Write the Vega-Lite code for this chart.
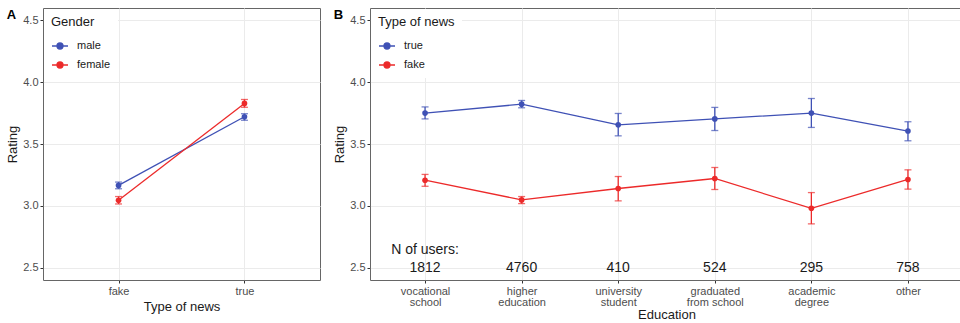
{
  "$schema": "https://vega.github.io/schema/vega-lite/v6.json",
  "padding": {"left": 6, "top": 7, "right": 0, "bottom": 0},
  "spacing": 12,
  "datasets": {
    "byGender": [
      {"news": "fake", "gender": "male", "rating": 3.165, "lo": 3.138, "hi": 3.192},
      {"news": "fake", "gender": "female", "rating": 3.045, "lo": 3.015, "hi": 3.075},
      {"news": "true", "gender": "male", "rating": 3.72, "lo": 3.692, "hi": 3.745},
      {"news": "true", "gender": "female", "rating": 3.828, "lo": 3.797, "hi": 3.86}
    ],
    "byEducation": [
      {"education": "vocational school", "news": "true", "rating": 3.75, "lo": 3.703, "hi": 3.8},
      {"education": "vocational school", "news": "fake", "rating": 3.207, "lo": 3.158, "hi": 3.254},
      {"education": "higher education", "news": "true", "rating": 3.822, "lo": 3.793, "hi": 3.852},
      {"education": "higher education", "news": "fake", "rating": 3.048, "lo": 3.018, "hi": 3.075},
      {"education": "university student", "news": "true", "rating": 3.655, "lo": 3.566, "hi": 3.747},
      {"education": "university student", "news": "fake", "rating": 3.14, "lo": 3.04, "hi": 3.237},
      {"education": "graduated from school", "news": "true", "rating": 3.703, "lo": 3.609, "hi": 3.796},
      {"education": "graduated from school", "news": "fake", "rating": 3.221, "lo": 3.132, "hi": 3.31},
      {"education": "academic degree", "news": "true", "rating": 3.75, "lo": 3.634, "hi": 3.868},
      {"education": "academic degree", "news": "fake", "rating": 2.98, "lo": 2.854, "hi": 3.107},
      {"education": "other", "news": "true", "rating": 3.605, "lo": 3.526, "hi": 3.68},
      {"education": "other", "news": "fake", "rating": 3.213, "lo": 3.135, "hi": 3.291}
    ],
    "users": [
      {"education": "vocational school", "n": 1812, "pos": 2.5},
      {"education": "higher education", "n": 4760, "pos": 2.5},
      {"education": "university student", "n": 410, "pos": 2.5},
      {"education": "graduated from school", "n": 524, "pos": 2.5},
      {"education": "academic degree", "n": 295, "pos": 2.5},
      {"education": "other", "n": 758, "pos": 2.5}
    ],
    "usersHeader": [
      {"education": "vocational school", "label": "N of users:", "pos": 2.645}
    ]
  },
  "hconcat": [
    {
      "title": {"text": "A", "anchor": "start", "frame": "bounds", "fontSize": 13, "fontWeight": "bold", "color": "#000000", "baseline": "top", "offset": -14},
      "width": 277,
      "height": 272,
      "data": {"name": "byGender"},
      "encoding": {
        "x": {
          "field": "news", "type": "nominal", "sort": ["fake", "true"],
          "scale": {"type": "point", "padding": 0.6},
          "axis": {"title": "Type of news", "labelAngle": 0, "grid": true, "titlePadding": 4}
        },
        "color": {
          "field": "gender", "type": "nominal",
          "scale": {"domain": ["male", "female"], "range": ["#3F51B5", "#EC2A2A"]},
          "legend": {"title": "Gender", "orient": "top-left"}
        }
      },
      "layer": [
        {
          "mark": {"type": "line", "strokeWidth": 1.3},
          "encoding": {
            "y": {
              "field": "rating", "type": "quantitative", "title": "Rating",
              "scale": {"domain": [2.4, 4.6], "nice": false, "zero": false},
              "axis": {
                "title": "Rating",
                "values": [2.5, 2.75, 3, 3.25, 3.5, 3.75, 4, 4.25, 4.5],
                "labelExpr": "datum.value * 2 == round(datum.value * 2) ? format(datum.value, '.1f') : ''",
                "labelOverlap": false,
                "gridColor": {"condition": {"test": "datum.value * 2 != round(datum.value * 2)", "value": "#F5F5F5"}, "value": "#EBEBEB"},
                "tickOpacity": {"condition": {"test": "datum.value * 2 != round(datum.value * 2)", "value": 0}, "value": 1}
              }
            }
          }
        },
        {
          "mark": {"type": "errorbar", "ticks": true, "size": 7, "thickness": 1.3},
          "encoding": {
            "y": {"field": "lo", "type": "quantitative", "title": "Rating"},
            "y2": {"field": "hi"}
          }
        },
        {
          "mark": {"type": "point", "filled": true, "size": 32, "opacity": 1},
          "encoding": {"y": {"field": "rating", "type": "quantitative", "title": "Rating"}}
        }
      ]
    },
    {
      "title": {"text": "B", "anchor": "start", "frame": "bounds", "fontSize": 13, "fontWeight": "bold", "color": "#000000", "baseline": "top", "offset": -14},
      "width": 593,
      "height": 272,
      "encoding": {
        "x": {
          "field": "education", "type": "nominal",
          "sort": ["vocational school", "higher education", "university student", "graduated from school", "academic degree", "other"],
          "scale": {"type": "point", "padding": 0.57},
          "axis": {
            "title": "Education", "labelAngle": 0, "grid": true, "titlePadding": 1,
            "labelExpr": "datum.label == 'graduated from school' ? ['graduated', 'from school'] : split(datum.label, ' ')",
            "labelLineHeight": 11
          }
        }
      },
      "layer": [
        {
          "data": {"name": "byEducation"},
          "encoding": {
            "color": {
              "field": "news", "type": "nominal",
              "scale": {"domain": ["true", "fake"], "range": ["#3F51B5", "#EC2A2A"]},
              "legend": {"title": "Type of news", "orient": "top-left"}
            }
          },
          "layer": [
            {
              "mark": {"type": "line", "strokeWidth": 1.3},
              "encoding": {
                "y": {
                  "field": "rating", "type": "quantitative", "title": "Rating",
                  "scale": {"domain": [2.4, 4.6], "nice": false, "zero": false},
                  "axis": {
                    "title": "Rating",
                    "values": [2.5, 2.75, 3, 3.25, 3.5, 3.75, 4, 4.25, 4.5],
                    "labelExpr": "datum.value * 2 == round(datum.value * 2) ? format(datum.value, '.1f') : ''",
                    "labelOverlap": false,
                    "gridColor": {"condition": {"test": "datum.value * 2 != round(datum.value * 2)", "value": "#F5F5F5"}, "value": "#EBEBEB"},
                    "tickOpacity": {"condition": {"test": "datum.value * 2 != round(datum.value * 2)", "value": 0}, "value": 1}
                  }
                }
              }
            },
            {
              "mark": {"type": "errorbar", "ticks": true, "size": 7, "thickness": 1.3},
              "encoding": {
                "y": {"field": "lo", "type": "quantitative", "title": "Rating"},
                "y2": {"field": "hi"}
              }
            },
            {
              "mark": {"type": "point", "filled": true, "size": 32, "opacity": 1},
              "encoding": {"y": {"field": "rating", "type": "quantitative", "title": "Rating"}}
            }
          ]
        },
        {
          "data": {"name": "users"},
          "mark": {"type": "text", "fontSize": 14, "color": "#1A1A1A"},
          "encoding": {
            "y": {"field": "pos", "type": "quantitative", "title": "Rating"},
            "text": {"field": "n", "type": "nominal"}
          }
        },
        {
          "data": {"name": "usersHeader"},
          "mark": {"type": "text", "fontSize": 14, "color": "#1A1A1A"},
          "encoding": {
            "y": {"field": "pos", "type": "quantitative", "title": "Rating"},
            "text": {"field": "label", "type": "nominal"}
          }
        }
      ]
    }
  ],
  "resolve": {"scale": {"color": "independent"}},
  "config": {
    "font": "Liberation Sans",
    "view": {"stroke": "#666666", "strokeWidth": 1},
    "axis": {
      "labelColor": "#4D4D4D", "labelFontSize": 11, "labelPadding": 2,
      "titleFontSize": 13, "titleFontWeight": "normal", "titleColor": "#1A1A1A", "titlePadding": 3,
      "tickColor": "#333333", "tickSize": 3, "domain": false, "gridColor": "#EBEBEB"
    },
    "legend": {
      "fillColor": "#FFFFFF", "padding": 7, "offset": 1,
      "titleFontSize": 13, "titleFontWeight": "normal", "titleColor": "#1A1A1A", "titlePadding": 8,
      "labelFontSize": 11, "labelColor": "#1A1A1A", "labelOffset": 8,
      "symbolType": "M-1,0H1M-0.375,0A0.375,0.375,0,1,0,0.375,0A0.375,0.375,0,1,0,-0.375,0Z",
      "symbolSize": 256, "symbolStrokeWidth": 1.3, "symbolOpacity": 1, "rowPadding": 4
    }
  }
}
